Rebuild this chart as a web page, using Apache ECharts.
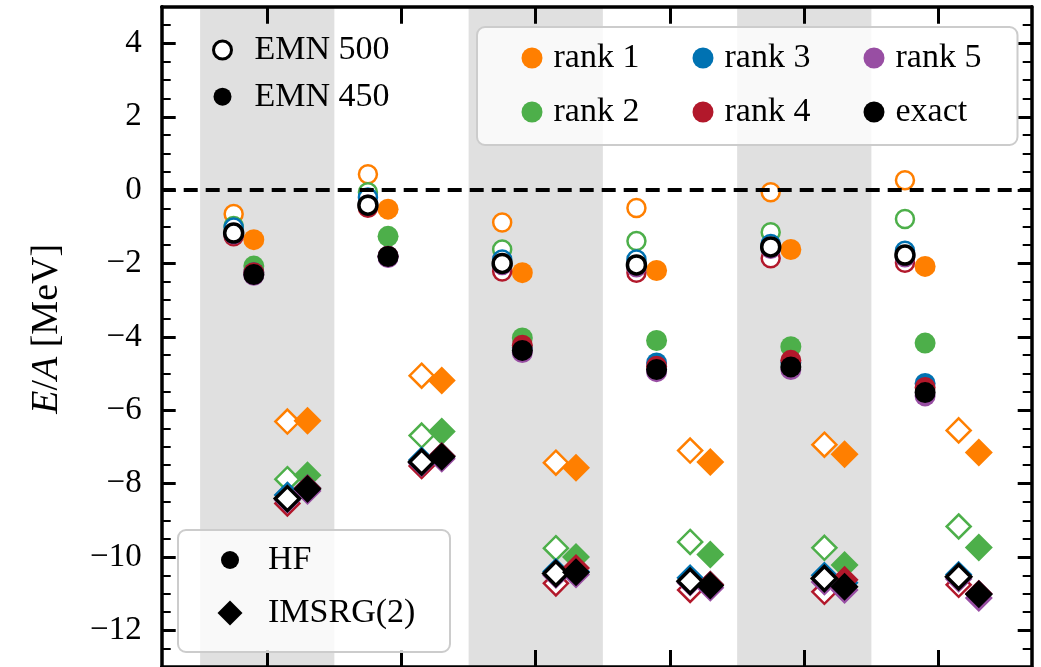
<!DOCTYPE html>
<html>
<head>
<meta charset="utf-8">
<script src="https://cdn.jsdelivr.net/npm/echarts@6/dist/echarts.min.js"></script>
<style>
  html, body { margin: 0; padding: 0; background: #ffffff; }
  #chart { width: 1041px; height: 667px; }
</style>
</head>
<body>
<div id="chart"></div>
<script>
// Group positions along x (one per system), and which of them get a shaded band
const groupPos = [1, 2, 3, 4, 5, 6];
const shadedGroups = [1, 3, 5];

// Approximation ranks plus the exact result
const rankNames = ['rank 1', 'rank 2', 'rank 3', 'rank 4', 'rank 5', 'exact'];
const rankColors = ['#ff7f00', '#4daf4a', '#0072b2', '#b2182b', '#984ea3', '#000000'];

// y tick labels (MeV)
const yTicks = [-12, -10, -8, -6, -4, -2, 0, 2, 4];

// E/A [MeV]; rows follow rankNames, columns follow groupPos
// HF with EMN 500
const hfEmn500 = [
  [-0.65, 0.43, -0.88, -0.49, -0.06, 0.27],
  [-0.98, -0.06, -1.62, -1.39, -1.15, -0.79],
  [-1.02, -0.20, -1.89, -1.89, -1.47, -1.65],
  [-1.26, -0.48, -2.22, -2.25, -1.86, -1.98],
  [-1.20, -0.40, -2.04, -2.10, -1.60, -1.83],
  [-1.17, -0.41, -2.00, -2.04, -1.55, -1.77]
];
// HF with EMN 450
const hfEmn450 = [
  [-1.35, -0.52, -2.25, -2.19, -1.62, -2.08],
  [-2.07, -1.26, -4.03, -4.10, -4.27, -4.17],
  [-2.25, -1.80, -4.30, -4.71, -4.70, -5.27],
  [-2.25, -1.80, -4.23, -4.80, -4.64, -5.38],
  [-2.32, -1.84, -4.43, -4.95, -4.89, -5.61],
  [-2.30, -1.81, -4.37, -4.89, -4.82, -5.52]
];
// IMSRG(2) with EMN 500
const imsrgEmn500 = [
  [-6.31, -5.06, -7.43, -7.10, -6.94, -6.55],
  [-7.88, -6.69, -9.76, -9.59, -9.75, -9.17],
  [-8.31, -7.36, -10.40, -10.57, -10.50, -10.48],
  [-8.54, -7.52, -10.72, -10.90, -10.95, -10.76],
  [-8.45, -7.45, -10.50, -10.70, -10.68, -10.60],
  [-8.41, -7.41, -10.45, -10.66, -10.59, -10.54]
];
// IMSRG(2) with EMN 450
const imsrgEmn450 = [
  [-6.29, -5.19, -7.57, -7.41, -7.20, -7.15],
  [-7.77, -6.58, -10.00, -9.93, -10.22, -9.74],
  [-8.12, -7.25, -10.40, -10.75, -10.70, -11.00],
  [-8.13, -7.25, -10.30, -10.75, -10.62, -11.00],
  [-8.20, -7.32, -10.48, -10.84, -10.90, -11.12],
  [-8.15, -7.27, -10.42, -10.78, -10.81, -11.02]
];

const FONT = '"Liberation Serif", "Times New Roman", serif';
const TXT = 34;

// marker style per method/interaction
const methods = [
  { vals: hfEmn500,    dx: -0.25, symbol: 'circle',  open: true,  size: 18 },
  { vals: hfEmn450,    dx: -0.10, symbol: 'circle',  open: false, size: 21 },
  { vals: imsrgEmn500, dx:  0.15, symbol: 'diamond', open: true,  size: 24 },
  { vals: imsrgEmn450, dx:  0.30, symbol: 'diamond', open: false, size: 28 }
];

const series = [];

// shaded bands behind alternate groups
series.push({
  type: 'scatter', name: '__bands', data: [], z: 1, silent: true,
  markArea: {
    silent: true,
    itemStyle: { color: '#e0e0e0', opacity: 1 },
    data: shadedGroups.map(g => [{ xAxis: g - 0.5 }, { xAxis: g + 0.5 }])
  }
});
// dashed zero line
series.push({
  type: 'scatter', name: '__zero', data: [], z: 2, silent: true,
  markLine: {
    silent: true, symbol: 'none', label: { show: false },
    lineStyle: { color: '#000', width: 4, type: [14, 8], opacity: 1 },
    emphasis: { disabled: true },
    data: [{ yAxis: 0 }]
  }
});

rankNames.forEach((name, r) => {
  const color = rankColors[r];
  const isExact = r === rankNames.length - 1;
  methods.forEach(m => {
    series.push({
      type: 'scatter', name: name, z: 3,
      symbol: m.symbol, symbolSize: m.size,
      data: groupPos.map((g, i) => [g + m.dx, m.vals[r][i]]),
      itemStyle: m.open
        ? { color: '#ffffff', borderColor: color, borderWidth: isExact ? 3.5 : 2.5, opacity: 1 }
        : { color: color, borderWidth: 0, opacity: 1 },
      emphasis: { disabled: true }
    });
  });
});

// empty series that carry the marker-style legend entries
[['EMN 500', 'circle'], ['EMN 450', 'circle'], ['HF', 'circle'], ['IMSRG(2)', 'diamond']].forEach(([n, s]) => {
  series.push({ type: 'scatter', name: n, symbol: s, data: [], itemStyle: { color: '#000', opacity: 1 } });
});

const xMin = groupPos[0] - 0.786;
const xMax = groupPos[groupPos.length - 1] + 0.694;

const minus = v => (v < 0 ? '\u2212' + Math.abs(v) : String(v));

const axisLineStyle = { color: '#000', width: 3.5 };

function xAxisDef(pos) {
  return {
    type: 'value', position: pos, min: xMin, max: xMax, z: 10,
    axisLine: { show: true, onZero: false, lineStyle: axisLineStyle },
    axisTick: { show: true, inside: true, length: 17, customValues: groupPos, lineStyle: { color: '#000', width: 3 } },
    axisLabel: { show: false },
    splitLine: { show: false }
  };
}
function yMajor(pos, labels) {
  const a = {
    type: 'value', position: pos, min: -13, max: 5, z: 10,
    axisLine: { show: true, onZero: false, lineStyle: axisLineStyle },
    axisTick: { show: true, inside: true, length: 14, customValues: yTicks, lineStyle: { color: '#000', width: 3 } },
    axisLabel: labels
      ? { show: true, customValues: yTicks, formatter: minus, fontFamily: FONT, fontSize: 33, color: '#000', margin: 20 }
      : { show: false },
    splitLine: { show: false }
  };
  if (labels) {
    a.name = '{it|E}/{it|A} [MeV]';
    a.nameLocation = 'middle';
    a.nameGap = 96;
    a.nameRotate = 90;
    a.nameTextStyle = {
      fontFamily: FONT, fontSize: 38, color: '#000', padding: [0, 0, 0, 16],
      rich: { it: { fontFamily: FONT, fontSize: 38, fontStyle: 'italic', color: '#000' } }
    };
  }
  return a;
}
function yMinor(pos) {
  return {
    type: 'value', position: pos, min: -13, max: 5, interval: 0.5, z: 10,
    axisLine: { show: false },
    axisTick: { show: true, inside: true, length: 9, lineStyle: { color: '#000', width: 2 } },
    axisLabel: { show: false },
    splitLine: { show: false }
  };
}

const legendText = { fontFamily: FONT, fontSize: TXT, color: '#000', lineHeight: 30 };

const option = {
  animation: false,
  backgroundColor: '#ffffff',
  grid: { left: 161.7, top: 6.7, width: 870, height: 666, containLabel: false },
  xAxis: [xAxisDef('bottom'), xAxisDef('top')],
  yAxis: [yMajor('left', true), yMinor('left'), yMajor('right', false), yMinor('right')],
  graphic: [{
    type: 'rect', z: 50, silent: true,
    shape: { x: 178, y: 530, width: 272, height: 122, r: 8 },
    style: { fill: 'rgba(255,255,255,0.8)', stroke: '#cccccc', lineWidth: 2 }
  }],
  legend: [
    {
      // ranks, three columns
      z: 60, selectedMode: false, orient: 'horizontal',
      left: 477, top: 27, width: 500,
      padding: [14, 3, 16, 44.5],
      itemWidth: 21, itemHeight: 21, itemGap: 20,
      backgroundColor: 'rgba(255,255,255,0.8)', borderColor: '#cccccc', borderWidth: 2, borderRadius: 8,
      textStyle: Object.assign({ width: 119, padding: [0, 0, 0, 6] }, legendText),
      data: ['rank 1', 'rank 3', 'rank 5', 'rank 2', 'rank 4', 'exact'].map(n => ({
        name: n, icon: 'circle',
        itemStyle: { color: rankColors[rankNames.indexOf(n)], borderWidth: 0, opacity: 1 }
      }))
    },
    {
      // interaction
      z: 60, selectedMode: false, orient: 'vertical',
      left: 212, top: 33, padding: 0,
      itemWidth: 18, itemHeight: 18, itemGap: 12.7,
      textStyle: Object.assign({ padding: [0, 0, 0, 18] }, legendText),
      data: [
        { name: 'EMN 500', icon: 'circle', itemStyle: { color: '#ffffff', borderColor: '#000', borderWidth: 3, opacity: 1 } },
        { name: 'EMN 450', icon: 'circle', itemStyle: { color: '#000', borderWidth: 0, opacity: 1 } }
      ]
    },
    {
      z: 60, selectedMode: false, orient: 'vertical',
      left: 221, top: 543, padding: 0,
      itemWidth: 18, itemHeight: 18,
      textStyle: Object.assign({ padding: [0, 0, 0, 24] }, legendText),
      data: [{ name: 'HF', icon: 'circle', itemStyle: { color: '#000', borderWidth: 0, opacity: 1 } }]
    },
    {
      z: 60, selectedMode: false, orient: 'vertical',
      left: 217.5, top: 596, padding: 0,
      itemWidth: 25, itemHeight: 25,
      textStyle: Object.assign({ padding: [0, 0, 0, 20.5] }, legendText),
      data: [{ name: 'IMSRG(2)', icon: 'diamond', itemStyle: { color: '#000', borderWidth: 0, opacity: 1 } }]
    }
  ],
  series: series
};

const chart = echarts.init(document.getElementById('chart'), null, { renderer: 'canvas' });
chart.setOption(option);
</script>
</body>
</html>
